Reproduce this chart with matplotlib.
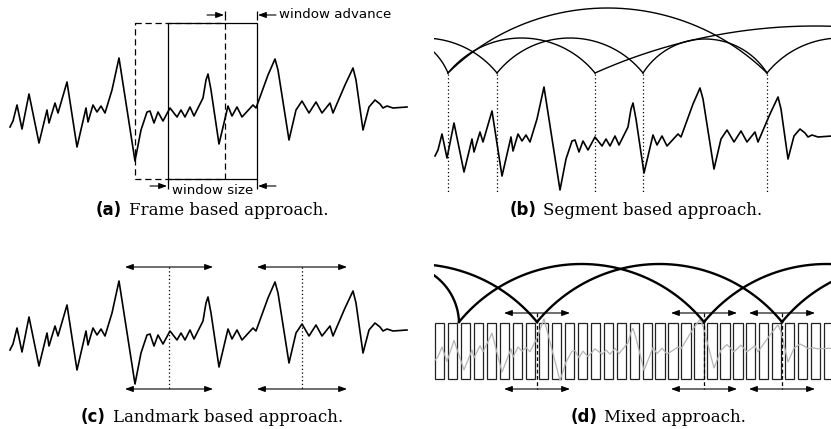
import numpy as np
import matplotlib
matplotlib.use("Agg")
from matplotlib import pyplot as plt
from matplotlib.patches import Rectangle, FancyArrowPatch
from matplotlib.offsetbox import TextArea, HPacker, AnnotationBbox

# everything below is in pixels of the 831x429 picture, y pointing down

# the signal
sigX = [10, 13, 17, 22, 29, 39, 47, 49, 55, 58, 67, 77, 86, 88, 93, 97, 101, 105,
        112, 119, 135, 141, 147, 150, 154, 158, 163, 170, 177, 181, 185, 190, 194,
        203, 206, 208, 211, 219, 228, 232, 237, 242, 253, 256, 260, 268, 275, 278,
        289, 296, 302, 309, 316, 322, 330, 333, 345, 353, 356, 363, 369, 375, 380,
        383, 387, 393, 407]
sigY = [127, 121, 105, 129, 94, 143, 110, 123, 103, 113, 82, 147, 108, 122, 105, 112, 106, 113,
        90, 58, 161, 130, 112, 111, 123, 112, 121, 108, 117, 110, 117, 107, 116,
        98, 80, 74, 90, 144, 106, 116, 107, 117, 105, 108, 97, 75, 59, 70,
        140, 110, 101, 113, 102, 113, 103, 113, 85, 68, 80, 130, 107, 100, 104,
        108, 106, 108, 107]

# where the same signal sits in the other panels
shiftB = (425, 29)
shiftC = (0, 223)
shiftD = (425, 350)
squashD = 0.6
sigMid = 110

# (a) previous and current frame
prevFrame = (135, 225)
curFrame = (168, 257)
frameTop, frameBottom = 23, 179

# (b) segment bounds, arcs as (start, end, height)
segBounds = [448, 497, 595, 643, 767]
segTop, segBottom = 74, 193
segArcs = [(328, 448, 40), (350, 497, 35), (448, 595, 35), (497, 643, 35),
           (643, 767, 34), (448, 767, 65), (595, 1035, 47), (767, 914, 35)]

# (c) landmarks and half window
landC = [169, 302]
halfC = [44, 45]
arrowTopC, arrowBotC = 267, 389

# (d) frame grid, landmarks, arcs
nFrames = 31
frameStep = 12.97
frameW = 9.2
gridLeft = 435
gridTop, gridBot = 323, 379
landD = [459, 537, 704, 782]
winD = [537, 704, 782]
halfD = 33
arrowTopD, arrowBotD = 313, 389
mixArcs = [(339, 459, 58), (292, 537, 58), (459, 704, 58), (537, 782, 58),
           (704, 949, 58), (782, 1027, 58)]

captions = [("(a)", "Frame based approach.", 212, 210),
            ("(b)", "Segment based approach.", 636, 210),
            ("(c)", "Landmark based approach.", 212, 417),
            ("(d)", "Mixed approach.", 658, 417)]


def arc(x0, x1, h, base):
    c = (x1 - x0) / 2.0
    r = (c * c + h * h) / (2.0 * h)
    cx = (x0 + x1) / 2.0
    cy = base + r - h
    half = np.arcsin(c / r)
    t = np.linspace(-half, half, 300)
    return cx + r * np.sin(t), cy - r * np.cos(t)


def arrow(ax, x0, x1, y, style="<|-|>"):
    ax.add_patch(FancyArrowPatch((x0, y), (x1, y),
                                 arrowstyle=style + ",head_length=0.6,head_width=0.22",
                                 mutation_scale=8, lw=0.8, color="k",
                                 shrinkA=0, shrinkB=0))


fig = plt.figure(figsize=(8.31, 4.29), dpi=100)
axL = fig.add_axes([0, 0, 415 / 831, 1])
axR = fig.add_axes([434 / 831, 0, 397 / 831, 1])
axL.set_xlim(0, 415)
axR.set_xlim(434, 831)
for ax in (axL, axR):
    ax.set_ylim(429, 0)
    ax.axis("off")

sx = np.array(sigX, dtype=float)
sy = np.array(sigY, dtype=float)

# (a) frame based
axL.plot(sx, sy, color="k", lw=1.2)
axL.add_patch(Rectangle((prevFrame[0], frameTop), prevFrame[1] - prevFrame[0],
                        frameBottom - frameTop, fill=False, ls=(0, (5, 3)), lw=0.9))
axL.add_patch(Rectangle((curFrame[0], frameTop), curFrame[1] - curFrame[0],
                        frameBottom - frameTop, fill=False, lw=0.9))
axL.vlines([prevFrame[1], curFrame[1]], 11, 20, color="k", lw=0.9)
arrow(axL, prevFrame[1] - 18, prevFrame[1] - 1, 15, "-|>")
arrow(axL, curFrame[1] + 19, curFrame[1] + 1, 15, "-|>")
axL.text(curFrame[1] + 22, 15, "window advance", fontsize=9.6, va="center")
axL.vlines([curFrame[0], curFrame[1]], frameBottom, 189, color="k", lw=0.9)
arrow(axL, curFrame[0] - 18, curFrame[0] - 1, 186, "-|>")
arrow(axL, curFrame[1] + 19, curFrame[1] + 1, 186, "-|>")
axL.text(curFrame[0] + 4, 194, "window size", fontsize=9.6, va="baseline")

# (b) segment based
axR.plot(sx + shiftB[0], sy + shiftB[1], color="k", lw=1.2)
axR.vlines(segBounds, segTop, segBottom, color="k", lw=0.9, linestyles=(0, (1, 2)))
for x0, x1, h in segArcs:
    ax_, ay_ = arc(x0, x1, h, segTop - 1)
    axR.plot(ax_, ay_, color="k", lw=1.0)

# (c) landmark based
axL.plot(sx + shiftC[0], sy + shiftC[1], color="k", lw=1.2)
for xm, hw in zip(landC, halfC):
    axL.vlines(xm, arrowTopC, arrowBotC, color="k", lw=0.9, linestyles=(0, (1, 2)))
    arrow(axL, xm - hw, xm + hw, arrowTopC)
    arrow(axL, xm - hw, xm + hw, arrowBotC)

# (d) mixed
axR.plot(sx + shiftD[0], (sy - sigMid) * squashD + shiftD[1], color="#b4b4b4", lw=0.9)
for i in range(nFrames):
    axR.add_patch(Rectangle((gridLeft + i * frameStep, gridTop), frameW,
                            gridBot - gridTop, fill=False, lw=0.9, ec="#222222"))
for x0, x1, h in mixArcs:
    ax_, ay_ = arc(x0, x1, h, gridTop - 1)
    axR.plot(ax_, ay_, color="k", lw=1.7)
for xm in winD:
    axR.vlines(xm, arrowTopD, arrowBotD, color="k", lw=0.9, linestyles=(0, (3, 2)))
    arrow(axR, xm - halfD, xm + halfD, arrowTopD)
    arrow(axR, xm - halfD, xm + halfD, arrowBotD)

# captions: bold sans tag + serif text
for tag, txt, xc, yc in captions:
    ax = axL if xc < 420 else axR
    box = HPacker(children=[TextArea(tag, textprops=dict(fontsize=12, fontweight="bold",
                                                         family="DejaVu Sans")),
                            TextArea(txt, textprops=dict(fontsize=12, family="DejaVu Serif"))],
                  align="baseline", pad=0, sep=5)
    ax.add_artist(AnnotationBbox(box, (xc, yc), xycoords="data", frameon=False,
                                 box_alignment=(0.5, 0.5), pad=0))

fig.savefig("out.png", dpi=100)
